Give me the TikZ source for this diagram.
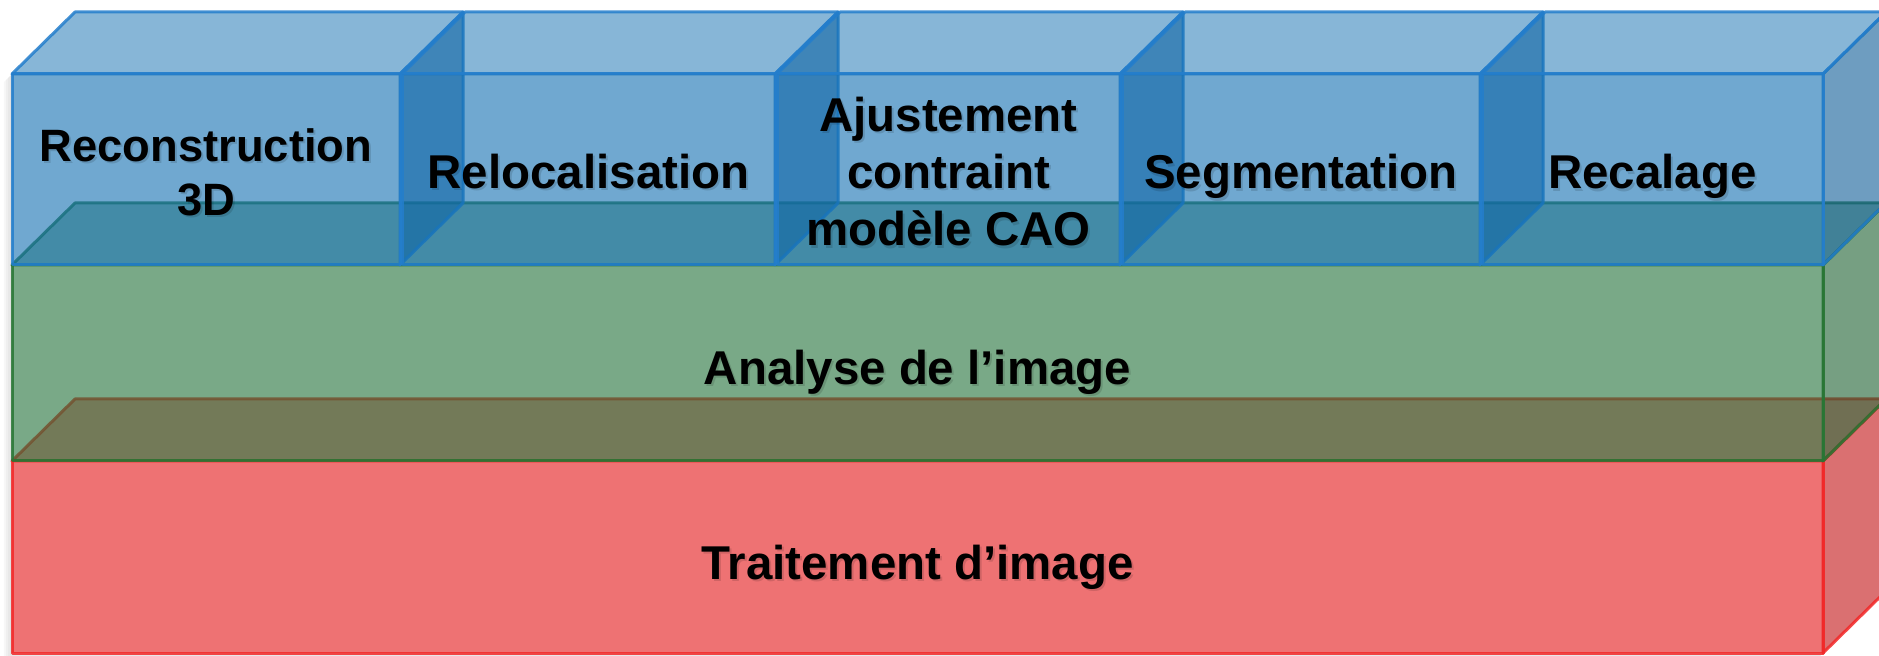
\documentclass[tikz,border=0pt]{standalone}
\usepackage{fontspec}
\setmainfont{Liberation Sans}

\definecolor{layerblue}{RGB}{17,110,177}
\definecolor{layergreen}{RGB}{32,112,55}
\definecolor{layerred}{RGB}{228,20,22}
\definecolor{edgeblue}{RGB}{36,126,204}
\definecolor{edgegreen}{RGB}{40,118,52}
\definecolor{edgered}{RGB}{242,40,40}

\begin{document}
\begin{tikzpicture}[
  face/.style={line width=0.06cm, line join=round, draw opacity=0.85},
  frontface/.style={face, fill opacity=0.6},
  topface/.style={face, fill opacity=0.5},
  sideface/.style={face, fill opacity=0.6},
  layerlabel/.style={font=\fontsize{27}{32.6}\selectfont\bfseries, align=center, inner sep=0pt},
  smalllabel/.style={layerlabel, font=\fontsize{25.8}{30.8}\selectfont\bfseries},
  labelshadow/.style={text=black, text opacity=0.13}
]
\clip (0,0) rectangle (37.58,13.1);
\def\dx{1.26}
\def\dy{1.24}

% soft shadow under the whole stack, then a white base so it only shows outside
\foreach \s in {0.04,0.08,...,0.2}
  \fill[black, opacity=0.03] ([shift={(-\s,-\s)}]0.24,0.04) -- ++(0,11.58) -- ++(\dx,\dy)
    -- ++(36.22,0) -- ++(0,-11.58) -- ++(-\dx,-\dy) -- cycle;
\fill[white] (0.24,0.04) -- ++(0,11.58) -- ++(\dx,\dy)
    -- ++(36.22,0) -- ++(0,-11.58) -- ++(-\dx,-\dy) -- cycle;

% layers from bottom to top: x from, x to, y from, y to, colour
\foreach \xa/\xb/\ya/\yb/\c in {
    0.24/36.46/0.04/3.88/red,
    0.24/36.46/3.88/7.8/green,
    0.24/8.0/7.8/11.62/blue,
    8.04/15.5/7.8/11.62/blue,
    15.54/22.4/7.8/11.62/blue,
    22.44/29.6/7.8/11.62/blue,
    29.64/36.46/7.8/11.62/blue}
{
  \filldraw[topface, fill=layer\c, draw=edge\c] (\xa,\yb) -- ++(\dx,\dy)
    -- ([shift={(\dx,\dy)}]\xb,\yb) -- (\xb,\yb) -- cycle;
  \filldraw[sideface, fill=layer\c!85!black, draw=edge\c] (\xb,\ya) -- ++(\dx,\dy)
    -- ([shift={(\dx,\dy)}]\xb,\yb) -- (\xb,\yb) -- cycle;
  \filldraw[frontface, fill=layer\c, draw=edge\c] (\xa,\ya) rectangle (\xb,\yb);
}

% labels with their shadows
\node[smalllabel, labelshadow] (reconstruction-shadow) at (4.16,9.61) {Reconstruction\\3D};
\node[smalllabel] (reconstruction) at (4.12,9.66) {Reconstruction\\3D};
\node[layerlabel, labelshadow] (relocalisation-shadow) at (11.81,9.62) {Relocalisation};
\node[layerlabel] (relocalisation) at (11.77,9.67) {Relocalisation};
\node[layerlabel, labelshadow] (ajustement-shadow) at (19.01,9.62) {Ajustement\\contraint\\modèle CAO};
\node[layerlabel] (ajustement) at (18.97,9.67) {Ajustement\\contraint\\modèle CAO};
\node[layerlabel, labelshadow] (segmentation-shadow) at (26.06,9.52) {Segmentation};
\node[layerlabel] (segmentation) at (26.02,9.57) {Segmentation};
\node[layerlabel, labelshadow] (recalage-shadow) at (33.09,9.52) {Recalage};
\node[layerlabel] (recalage) at (33.05,9.57) {Recalage};
\node[layerlabel, labelshadow] (analyse-shadow) at (18.39,5.61) {Analyse de l’image};
\node[layerlabel] (analyse) at (18.35,5.66) {Analyse de l’image};
\node[layerlabel, labelshadow] (traitement-shadow) at (18.39,1.71) {Traitement d’image};
\node[layerlabel] (traitement) at (18.35,1.76) {Traitement d’image};
\end{tikzpicture}
\end{document}
